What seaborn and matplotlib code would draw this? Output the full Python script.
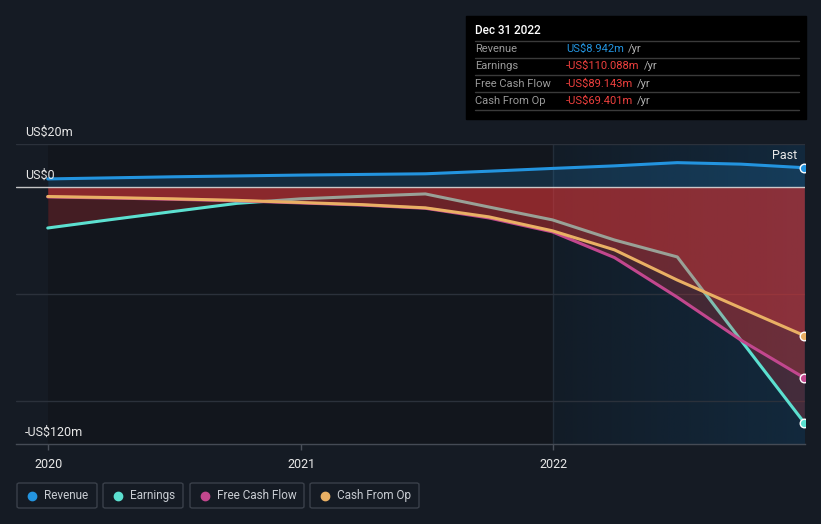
import numpy as np
import pandas as pd
import seaborn as sns
import matplotlib.dates as mdates

from matplotlib import pyplot as plt
from matplotlib.colors import LinearSegmentedColormap
from matplotlib.lines import Line2D
from matplotlib.patches import FancyBboxPatch, Rectangle

W, H = 821, 524
BG = '#151b24'

PERIODS = ['2019-12-31', '2020-03-31', '2020-06-30', '2020-09-30', '2020-12-31',
           '2021-03-31', '2021-06-30', '2021-09-30', '2021-12-31',
           '2022-03-31', '2022-06-30', '2022-09-30', '2022-12-31']
REVENUE = [3.7, 4.2, 4.7, 5.1, 5.5, 5.8, 6.1, 7.3, 8.6, 9.8, 11.3, 10.6, 8.942]
EARNINGS = [-19.2, -15.3, -11.5, -7.7, -5.6, -4.4, -3.3, -9.4, -15.4, -24.8, -32.7, -71.5, -110.088]
FREE_CASH_FLOW = [-4.7, -5.2, -5.8, -6.5, -7.5, -8.5, -10.0, -14.5, -21.0, -33.0, -51.5, -71.5, -89.143]
CASH_FROM_OP = [-4.5, -5.0, -5.6, -6.3, -7.3, -8.3, -9.8, -14.0, -20.5, -29.4, -43.5, -56.5, -69.401]

SERIES = ['Revenue', 'Earnings', 'Free Cash Flow', 'Cash From Op']
COLORS = ['#2394df', '#5ce0d0', '#c2478e', '#e9b064']
TOOLTIP_VALUES = ['US$8.942m', '-US$110.088m', '-US$89.143m', '-US$69.401m']
TOOLTIP_COLORS = ['#2394df', '#f0403e', '#f0403e', '#f0403e']
Y_LABELS = {20: 'US$20m', 0: 'US$0', -120: '-US$120m'}
X_TICKS = ['2020-01-01', '2021-01-01', '2022-01-01']
X_TICK_LABELS = ['2020', '2021', '2022']


def fx(px):
    return px / W


def fy(py):
    return 1 - py / H


def main():
    sns.set_style('dark', rc={'axes.facecolor': BG, 'figure.facecolor': BG})
    plt.rcParams['font.family'] = ['Roboto', 'DejaVu Sans']

    dates = pd.to_datetime(PERIODS)
    wide = pd.DataFrame({'Period': dates,
                         'Revenue': REVENUE,
                         'Earnings': EARNINGS,
                         'Free Cash Flow': FREE_CASH_FLOW,
                         'Cash From Op': CASH_FROM_OP})
    df = wide.melt(id_vars='Period', var_name='Series', value_name='Value')

    fig = plt.figure(figsize=(W / 100, H / 100), dpi=100)
    ax = fig.add_axes([fx(16), fy(444), fx(805) - fx(16), (444 - 144) / H])

    start, split, end = dates[0], pd.Timestamp('2022-01-01'), dates[-1]
    ax.axvspan(start, split, color='#12161d', lw=0, zorder=0)
    past_cmap = LinearSegmentedColormap.from_list('past', ['#121c27', '#12293d'])
    grad = np.linspace(0, 1, 256).reshape(1, -1)
    ax.imshow(grad, cmap=past_cmap, aspect='auto', zorder=0,
              extent=[mdates.date2num(split), mdates.date2num(end + pd.Timedelta(days=3)), -120, 20])
    ax.axvline(split, color='#222d39', lw=1, zorder=1)

    for v in (20, -50, -100):
        ax.axhline(v, color='#2b313b', lw=1, zorder=1)

    sns.lineplot(data=df, x='Period', y='Value', hue='Series', hue_order=SERIES,
                 palette=dict(zip(SERIES, COLORS)), linewidth=2.2, legend=False, ax=ax)

    # each series: own fill under its line, later series' fills over earlier lines
    for i, (line, name) in enumerate(zip(ax.get_lines()[-4:], SERIES)):
        base = 2 + i
        line.set_zorder(base + 0.5)
        if name == 'Revenue':
            ax.fill_between(dates, 0, wide[name], color='#2394df', alpha=0.18, lw=0, zorder=base)
        else:
            ax.fill_between(dates, 0, wide[name], color='#ff3b3b', alpha=0.21, lw=0, zorder=base)

    ax.axhline(0, color='#d8d8d8', lw=1, alpha=0.9, zorder=7)

    for name, color in zip(SERIES, COLORS):
        ax.scatter([end], [wide[name].iloc[-1]], s=38, color=color,
                   edgecolor='white', linewidth=1, zorder=8)

    ax.set_xlim(pd.Timestamp('2019-11-15'), end + pd.Timedelta(days=1))
    ax.set_ylim(-120, 20)
    ax.set_xticks(pd.to_datetime(X_TICKS))
    ax.set_xticklabels(X_TICK_LABELS)
    ax.set_yticks([])
    ax.set_xlabel('')
    ax.set_ylabel('')
    ax.tick_params(axis='x', colors='#4a505a', labelcolor='#e8e8e8', labelsize=9,
                   length=4, width=1, direction='out', bottom=True, pad=6)
    for side in ('top', 'right', 'left'):
        ax.spines[side].set_visible(False)
    ax.spines['bottom'].set_color('#454b55')
    ax.spines['bottom'].set_linewidth(1)

    for v, label in Y_LABELS.items():
        fig.text(fx(25), fy(187 - v * 300 / 140 - 12), label, color='#e8e8e8',
                 fontsize=9, va='center', ha='left')
    fig.text(fx(797), fy(156), 'Past', color='#e8e8e8', fontsize=9, va='center', ha='right')

    # tooltip box
    fig.add_artist(Rectangle((fx(466), fy(119)), fx(806) - fx(466), fy(16) - fy(119),
                             transform=fig.transFigure, color='#000000', zorder=5))
    fig.text(fx(475), fy(31), 'Dec 31 2022', color='white', fontsize=8.5,
             fontweight='medium', va='center', zorder=6)
    for yy in (41, 58, 75, 92, 110):
        fig.add_artist(Line2D([fx(475), fx(799)], [fy(yy), fy(yy)], color='#3a3a3a',
                              lw=1, transform=fig.transFigure, zorder=6))
    renderer = fig.canvas.get_renderer()
    for i, (name, value, vcolor) in enumerate(zip(SERIES, TOOLTIP_VALUES, TOOLTIP_COLORS)):
        y = fy(49 + i * 17.3)
        fig.text(fx(475), y, name, color='#9a9a9a', fontsize=8, va='center', zorder=6)
        t = fig.text(fx(566), y, value, color=vcolor, fontsize=8, va='center', zorder=6)
        bb = t.get_window_extent(renderer)
        fig.text(fx(bb.x1 + 4), y, '/yr', color='#b0b0b0', fontsize=8, va='center', zorder=6)

    # legend boxes
    box_left = [17, 103, 190, 310]
    box_right = [97, 183, 304, 419]
    for name, color, x0, x1 in zip(SERIES, COLORS, box_left, box_right):
        fig.add_artist(FancyBboxPatch((fx(x0), fy(508)), fx(x1) - fx(x0), fy(483) - fy(508),
                                      boxstyle='round,pad=0,rounding_size=0.003',
                                      transform=fig.transFigure, fc='none',
                                      ec='#3a404a', lw=1))
        fig.add_artist(Line2D([fx(x0 + 15)], [fy(495.5)], marker='o', ms=6, color=color,
                              lw=0, transform=fig.transFigure))
        fig.text(fx(x0 + 27), fy(495.5), name, color='#c8ccd2', fontsize=8.5, va='center')

    fig.savefig('out.png', dpi=100, facecolor=BG)


if __name__ == '__main__':
    main()
